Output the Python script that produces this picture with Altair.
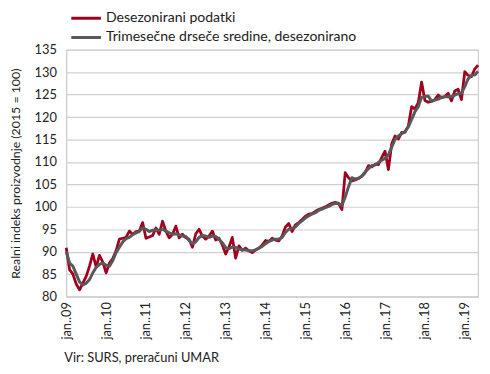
import altair as alt
import pandas as pd

series_names = ["Desezonirani podatki", "Trimesečne drseče sredine, desezonirano"]
series_colors = ["#A0001E", "#595959"]

# monthly, jan 2009 .. may 2019
desezonirani = [
    90.9, 86.0, 85.0, 82.8, 81.5, 83.0, 84.5, 86.8, 89.5, 86.6, 89.2, 87.7,
    85.3, 87.5, 88.5, 90.2, 92.8, 93.0, 93.2, 94.6, 93.9, 94.5, 94.6, 96.5,
    93.0, 93.3, 93.6, 95.3, 93.9, 96.8, 94.6, 93.1, 93.9, 95.7, 93.1, 93.9,
    93.1, 92.8, 91.0, 94.0, 95.0, 93.5, 92.8, 93.5, 94.6, 92.6, 93.0, 91.5,
    89.5, 91.0, 93.2, 88.6, 91.3, 90.3, 90.8, 90.2, 89.8, 90.4, 90.8, 91.5,
    92.5, 92.3, 93.0, 92.6, 92.4, 93.5, 95.5, 96.3, 94.5, 96.0, 96.5, 97.2,
    97.9, 98.4, 98.5, 99.0, 99.4, 99.7, 100.0, 100.4, 100.8, 101.0, 100.8, 99.4,
    107.6, 106.5, 105.8, 106.0, 106.3, 106.8, 107.6, 109.2, 108.9, 109.5, 109.4, 111.0,
    112.4, 108.3, 114.0, 115.8, 115.1, 116.6, 116.6, 118.0, 122.3, 121.8, 123.2, 127.8,
    123.7, 123.3, 123.5, 123.9, 124.9, 124.3, 124.6, 125.3, 123.6, 125.8, 126.2, 123.9,
    130.1, 129.3, 129.0, 130.7, 131.6,
]

trimesecne = [
    90.0, 87.5, 86.8, 85.0, 83.3, 82.6, 83.0, 83.8, 85.3, 86.5, 87.2, 87.5,
    87.0, 86.8, 88.0, 89.8, 91.0, 92.2, 92.9, 93.2, 93.8, 94.2, 94.5, 95.3,
    95.0, 94.5, 94.8, 94.9, 94.8, 95.0, 94.6, 94.2, 93.9, 94.0, 93.8, 93.5,
    93.4, 92.5, 91.8, 92.2, 93.2, 93.6, 93.5, 93.2, 93.5, 93.4, 92.8, 92.0,
    90.9, 90.7, 91.0, 91.0, 90.6, 90.5, 90.4, 90.2, 90.2, 90.4, 90.8, 91.2,
    91.8, 92.3, 92.6, 92.8, 92.8, 93.2, 94.3, 95.0, 95.2, 95.5, 96.3, 96.9,
    97.5, 98.0, 98.4, 98.7, 99.2, 99.5, 99.8, 100.1, 100.5, 100.8, 100.7, 100.3,
    102.2, 104.5, 106.5, 106.2, 106.4, 106.9, 107.8, 108.5, 109.2, 109.3, 109.9, 110.4,
    110.8, 111.6, 113.3, 115.0, 115.8, 116.3, 116.8, 117.8, 119.5, 121.2, 122.3, 124.4,
    124.6, 124.7, 123.5, 123.8, 124.0, 124.4, 124.5, 124.6, 124.5, 124.9, 125.2, 125.3,
    126.8, 128.5, 129.3, 129.4, 130.2,
]

year_ticks = [0, 12, 24, 36, 48, 60, 72, 84, 96, 108, 120]
y_ticks = [80, 85, 90, 95, 100, 105, 110, 115, 120, 125, 130, 135]
source_text = ["Vir: SURS, preračuni UMAR"]

rows = []
for i, v in enumerate(desezonirani):
    rows.append({"m": i, "v": v, "s": series_names[0]})
for i, v in enumerate(trimesecne):
    rows.append({"m": i, "v": v, "s": series_names[1]})
df = pd.DataFrame(rows)

FONT = "Lato"

color = alt.Color(
    "s:N",
    scale=alt.Scale(domain=series_names, range=series_colors),
    legend=alt.Legend(
        title=None,
        orient="none",
        legendX=13,
        legendY=-39,
        symbolType="M-3,0H3",
        symbolSize=100,
        symbolStrokeWidth=3,
        labelFontSize=14.2,
        labelFont=FONT,
        labelColor="#222222",
        labelOffset=13,
        labelLimit=500,
        rowPadding=4.5,
        padding=0,
    ),
)

x = alt.X(
    "m:Q",
    scale=alt.Scale(domain=[0, 124], nice=False, zero=False),
    axis=alt.Axis(
        values=year_ticks,
        labelExpr="'jan..' + format(9 + datum.value / 12, '02d')",
        labelAngle=-90,
        labelAlign="right",
        labelBaseline="middle",
        labelPadding=5,
        labelFontSize=13,
        labelFont=FONT,
        labelColor="#222222",
        ticks=False,
        grid=False,
        domainColor="#d0d0d0",
        title=None,
    ),
)

y = alt.Y(
    "v:Q",
    scale=alt.Scale(domain=[80, 135], nice=False, zero=False),
    axis=alt.Axis(
        values=y_ticks,
        labelFontSize=13,
        labelFont=FONT,
        labelColor="#222222",
        labelPadding=10,
        ticks=False,
        gridColor="#d0d0d0",
        gridWidth=1.2,
        domainColor="#d0d0d0",
        title="Realni indeks proizvodnje (2015 = 100)",
        titleFont=FONT,
        titleFontSize=12.5,
        titleFontWeight="normal",
        titleColor="#222222",
        titleX=-51,
        titleY=125,
        titleAngle=-90,
        titleAlign="center",
        titleBaseline="middle",
    ),
)

base = alt.Chart(df)
red = base.transform_filter(alt.datum.s == series_names[0]).mark_line(
    strokeWidth=2.8, strokeJoin="round"
).encode(x=x, y=y, color=color)
gray = base.transform_filter(alt.datum.s == series_names[1]).mark_line(
    strokeWidth=3, strokeJoin="round"
).encode(x=x, y=y, color=color)

src = alt.Chart(pd.DataFrame({"t": source_text})).mark_text(
    align="left", baseline="middle", fontSize=13, font=FONT, color="#222222"
).encode(text="t:N", x=alt.value(-2), y=alt.value(312))

chart = alt.layer(red, gray, src).properties(
    width=417,
    height=250,
    autosize=alt.AutoSizeParams(type="none"),
    padding={"left": 59, "top": 40, "right": 4, "bottom": 70},
).configure_view(stroke="#d0d0d0", strokeWidth=1.2)

chart.save("out.html", embed_options={"renderer": "svg", "actions": False})
